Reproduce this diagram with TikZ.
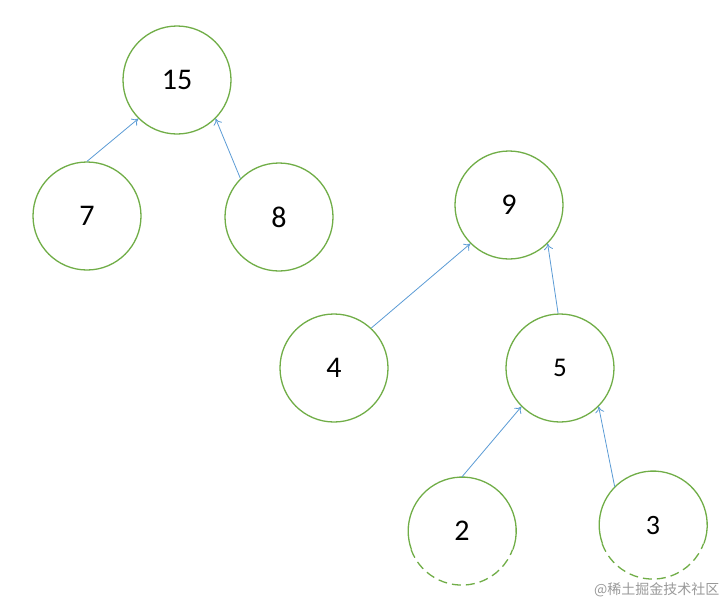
\documentclass[tikz,border=0pt]{standalone}
\usepackage{fontspec}
\setmainfont{Carlito}
\newfontfamily\cjk{Noto Sans CJK SC}
\usetikzlibrary{arrows.meta}
\definecolor{treegreen}{RGB}{112,173,71}
\definecolor{edgeblue}{RGB}{91,155,213}
\begin{document}
\begin{tikzpicture}[x=1pt,y=-1pt,
  tnode/.style={circle,draw=treegreen,line width=1.3pt,minimum size=108pt,inner sep=0pt,font=\fontsize{30}{30}\selectfont},
  halfnode/.style={circle,draw=none,minimum size=108pt,inner sep=0pt,font=\fontsize{30}{30}\selectfont},
  tedge/.style={draw=edgeblue,line width=0.8pt,-{To[length=6pt,width=9pt]}},
  wm/.style={text=black!40,font=\cjk\fontsize{14}{14}\selectfont,anchor=east}]
\useasboundingbox (0,0) rectangle (727,603);
\node[tnode] (n15) at (177,80) {15};
\node[tnode] (n7) at (87,216) {7};
\node[tnode] (n8) at (279,217) {8};
\node[tnode] (n9) at (509,205) {9};
\node[tnode] (n4) at (334,368) {4};
\node[tnode,font=\fontsize{27}{27}\selectfont] (n5) at (560,368) {5};
\node[halfnode] (n2) at (462,531) {2};
\node[halfnode,font=\fontsize{28}{28}\selectfont] (n3) at (653,525) {3};
% circles 2 and 3: solid top, dashed bottom
\foreach \c in {n2,n3}{
  \draw[treegreen,line width=1.3pt] (\c.-20) arc[start angle=-20,end angle=200,radius=54pt];
  \draw[treegreen,line width=1.3pt,dash pattern=on 9pt off 5pt] (\c.200) arc[start angle=200,end angle=340,radius=54pt];
}
\draw[tedge] (n7.north) -- (n15.225);
\draw[tedge] (n8.135) -- (n15.-45);
\draw[tedge] (n4.47) -- (n9.225);
\draw[tedge] (n5.92) -- (n9.-45);
\draw[tedge] (n2.north) -- (n5.225);
\draw[tedge] (n3.135) -- (n5.-45);
\node[wm] (wm) at (723,590) {@稀土掘金技术社区};
\end{tikzpicture}
\end{document}
